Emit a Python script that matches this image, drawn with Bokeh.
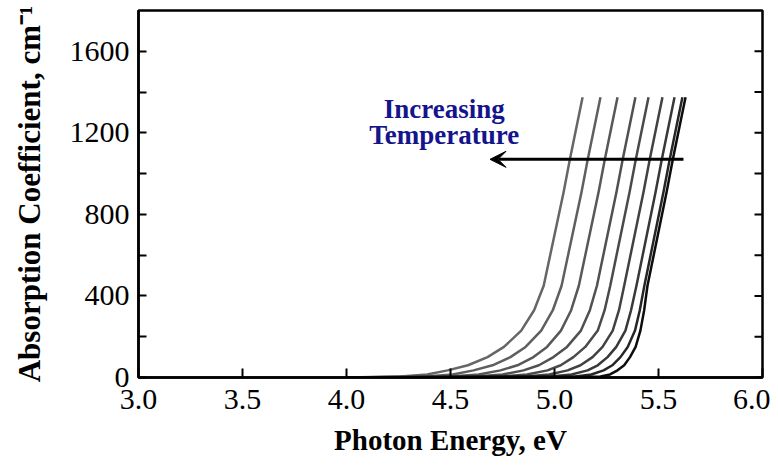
from bokeh.plotting import figure
from bokeh.models import (Range1d, Arrow, VeeHead, Label, FixedTicker,
                          NumeralTickFormatter, ColumnDataSource)
from bokeh.embed import file_html
from bokeh.resources import INLINE

# Absorption coefficient levels (cm^-1) at which each curve's photon energy (eV) was read
ALPHA_LEVELS = [0, 5, 15, 35, 60, 100, 150, 230, 330, 450, 910, 1070, 1375]

# Photon energy (eV) of each curve at those levels, highest temperature (left) first
E_C1 = [4.00, 4.260, 4.388, 4.486, 4.584, 4.678, 4.757, 4.840, 4.902, 4.948, 5.044, 5.074, 5.135]
E_C2 = [4.00, 4.380, 4.511, 4.611, 4.702, 4.788, 4.861, 4.936, 4.992, 5.034, 5.130, 5.160, 5.221]
E_C3 = [4.00, 4.500, 4.636, 4.740, 4.822, 4.899, 4.964, 5.031, 5.080, 5.117, 5.212, 5.242, 5.303]
E_C4 = [4.00, 4.620, 4.751, 4.851, 4.925, 4.995, 5.060, 5.127, 5.170, 5.204, 5.298, 5.328, 5.389]
E_C5 = [4.00, 4.740, 4.868, 4.966, 5.030, 5.091, 5.148, 5.208, 5.241, 5.268, 5.361, 5.391, 5.452]
E_C6 = [4.00, 4.861, 4.975, 5.063, 5.125, 5.183, 5.231, 5.280, 5.310, 5.335, 5.428, 5.458, 5.519]
E_C7 = [4.00, 4.981, 5.082, 5.159, 5.208, 5.255, 5.297, 5.341, 5.368, 5.394, 5.486, 5.516, 5.577]
E_C8 = [4.00, 5.101, 5.177, 5.236, 5.278, 5.317, 5.352, 5.387, 5.410, 5.432, 5.524, 5.554, 5.615]
E_C9 = [4.00, 5.221, 5.267, 5.303, 5.335, 5.363, 5.390, 5.413, 5.431, 5.447, 5.539, 5.569, 5.630]

CURVES = [E_C1, E_C2, E_C3, E_C4, E_C5, E_C6, E_C7, E_C8, E_C9]
CURVE_COLORS = ["#666666", "#5f5f5f", "#585858", "#515151", "#4a4a4a",
                "#424242", "#383838", "#262626", "#0d0d0d"]

X_TICKS = [3.0, 3.5, 4.0, 4.5, 5.0, 5.5, 6.0]
Y_TICKS = [0, 400, 800, 1200, 1600]
Y_MINOR = [200, 600, 1000, 1400]
Y_RIGHT_TICKS = [0, 200, 400, 600, 800, 1000, 1200, 1400, 1600]

X_TITLE = "Photon Energy, eV"
Y_TITLE = "Absorption Coefficient, cm\u207b\u00b9"

SERIF = "Liberation Serif"
X_MIN, X_MAX = 3.0, 6.0
Y_MIN, Y_MAX = 0, 1800

p = figure(width=770, height=458, output_backend="svg", toolbar_location=None,
           x_range=Range1d(X_MIN, X_MAX), y_range=Range1d(Y_MIN, Y_MAX),
           min_border_left=138, min_border_right=8, min_border_top=10,
           min_border_bottom=81)
p.xgrid.visible = False
p.ygrid.visible = False
p.outline_line_color = "black"
p.outline_line_width = 2.5
p.background_fill_color = "white"
p.border_fill_color = "white"

for es, col in zip(CURVES, CURVE_COLORS):
    src = ColumnDataSource(dict(x=es, y=ALPHA_LEVELS))
    p.line("x", "y", source=src, line_color=col, line_width=2.5,
           line_join="round")

# inward tick marks on the right-hand frame edge
p.ray(x=[X_MAX] * len(Y_RIGHT_TICKS), y=Y_RIGHT_TICKS, length=8,
      length_units="screen", angle=180, angle_units="deg",
      line_color="black", line_width=2)

# x axis
xa = p.xaxis[0]
xa.ticker = FixedTicker(ticks=X_TICKS)
xa.formatter = NumeralTickFormatter(format="0.0")
xa.axis_label = X_TITLE
xa.axis_label_text_font = SERIF
xa.axis_label_text_font_style = "bold"
xa.axis_label_text_font_size = "29px"
xa.axis_label_text_color = "black"
xa.axis_label_standoff = 12
xa.major_label_text_font = SERIF
xa.major_label_text_font_size = "30px"
xa.major_label_text_color = "black"
xa.major_label_standoff = 12
xa.major_tick_in = 9
xa.major_tick_out = 0
xa.minor_tick_in = 0
xa.minor_tick_out = 0
xa.axis_line_width = 2.5
xa.major_tick_line_width = 2
xa.axis_line_color = "black"

# y axis
ya = p.yaxis[0]
ya.ticker = FixedTicker(ticks=Y_TICKS, minor_ticks=Y_MINOR)
ya.axis_label = Y_TITLE
ya.axis_label_text_font = SERIF
ya.axis_label_text_font_style = "bold"
ya.axis_label_text_font_size = "31px"
ya.axis_label_text_color = "black"
ya.axis_label_standoff = 20
ya.major_label_text_font = SERIF
ya.major_label_text_font_size = "30px"
ya.major_label_text_color = "black"
ya.major_label_standoff = 9
ya.major_tick_in = 8
ya.major_tick_out = 0
ya.minor_tick_in = 8
ya.minor_tick_out = 0
ya.major_tick_line_width = 2
ya.minor_tick_line_width = 2
ya.minor_tick_line_color = "black"
ya.axis_line_width = 2.5
ya.axis_line_color = "black"

# annotation
p.add_layout(Arrow(end=VeeHead(size=16, fill_color="black", line_color="black"),
                   x_start=5.62, y_start=1070, x_end=4.69, y_end=1070,
                   line_color="black", line_width=3))
for txt, yy in [("Increasing", 1318), ("Temperature", 1187)]:
    p.add_layout(Label(x=4.47, y=yy, text=txt, text_align="center",
                       text_baseline="alphabetic", text_font=SERIF,
                       text_font_style="bold", text_font_size="27px",
                       text_color="#14148c"))

open("out.html", "w").write(file_html(p, INLINE))
